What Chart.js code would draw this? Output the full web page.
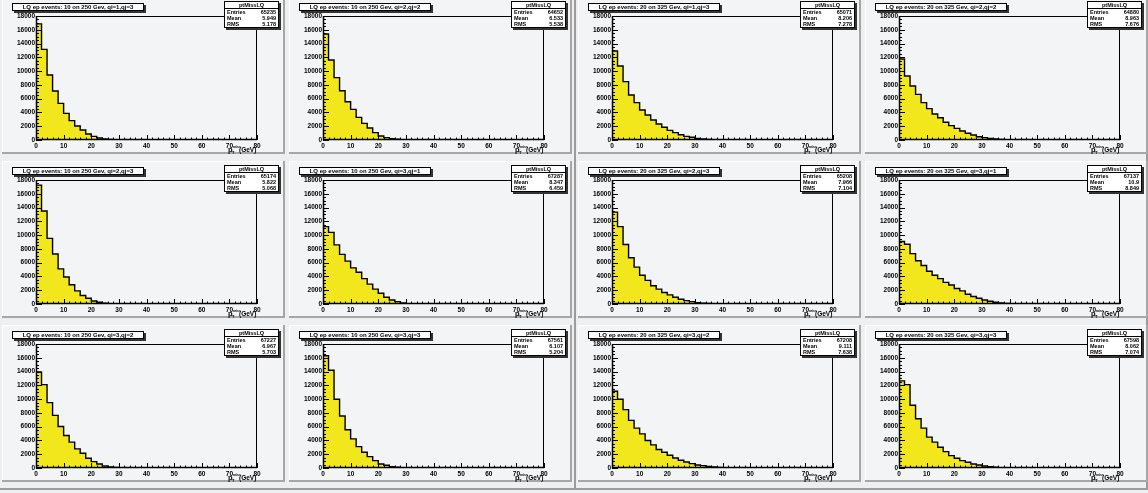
<!DOCTYPE html>
<html>
<head>
<meta charset="utf-8">
<script src="https://cdn.jsdelivr.net/npm/chart.js@4.4.0/dist/chart.umd.min.js"></script>
<style>
    body {
        margin: 0;
        width: 1148px;
        height: 493px;
        overflow: hidden;
        position: relative;
        background: #eeeff1;
        font-family: "Liberation Sans", Arial, sans-serif;
        font-weight: bold;
        color: #000;
    }
    .cv {
        position: absolute;
        top: 0;
        width: 574px;
        height: 488px;
        border-right: 2px solid #9c9c9c;
        border-bottom: 2px solid #9c9c9c;
    }
    .pad {
        position: absolute;
        width: 283px;
        height: 157px;
        background: #f3f4f6;
        box-shadow: inset -2px -2px 0 #a6a6a6, inset 1px 1px 0 #ffffff;
    }
    .pad canvas { position: absolute; left: 0; top: 0; }
    .title {
        position: absolute;
        left: 10px;
        top: 6px;
        width: 132px;
        height: 8px;
        background: #fff;
        border: 1px solid #000;
        box-shadow: 2px 2px 0 #333;
        box-sizing: border-box;
        font-size: 6px;
        line-height: 7px;
        text-align: center;
        white-space: nowrap;
    }
    .stats {
        position: absolute;
        left: 222px;
        top: 4px;
        width: 55px;
        height: 27px;
        background: #fff;
        border: 1px solid #000;
        box-shadow: 2px 2px 0 #333;
        box-sizing: border-box;
        font-size: 5.5px;
    }
    .stats .hd { text-align: center; border-bottom: 1px solid #000; height: 7px; line-height: 6px; box-sizing: border-box; }
    .stats .row { display: flex; justify-content: space-between; padding: 0 2px; height: 6px; line-height: 6px; }
    .xt { position: absolute; left: 226px; top: 148px; width: 40px; height: 10px; }
    .xt span { position: absolute; white-space: nowrap; line-height: normal; }
</style>
</head>
<body>
<div class="cv" style="left:0"></div>
<div class="cv" style="left:576px;width:570px"></div>
<div id="root"></div>
<script>
// bin width in GeV, histogram range 0..80
const binWidth = 2;
const xTickValues = [0, 10, 20, 30, 40, 50, 60, 70, 80];
const yTickValues = [0, 2000, 4000, 6000, 8000, 10000, 12000, 14000, 16000, 18000];

const panelTitles = [
    "LQ ep events: 10 on 250 Gev, qi=1,qj=3",
    "LQ ep events: 10 on 250 Gev, qi=2,qj=2",
    "LQ ep events: 20 on 325 Gev, qi=1,qj=3",
    "LQ ep events: 20 on 325 Gev, qi=2,qj=2",
    "LQ ep events: 10 on 250 Gev, qi=2,qj=3",
    "LQ ep events: 10 on 250 Gev, qi=3,qj=1",
    "LQ ep events: 20 on 325 Gev, qi=2,qj=3",
    "LQ ep events: 20 on 325 Gev, qi=3,qj=1",
    "LQ ep events: 10 on 250 Gev, qi=3,qj=2",
    "LQ ep events: 10 on 250 Gev, qi=3,qj=3",
    "LQ ep events: 20 on 325 Gev, qi=3,qj=2",
    "LQ ep events: 20 on 325 Gev, qi=3,qj=3"
];
const entries = [65235, 64652, 65071, 64880, 65174, 67287, 65208, 67137, 67227, 67561, 67208, 67598];
const means = ["5.949", "6.533", "8.206", "8.963", "5.822", "8.347", "7.966", "10.9", "6.967", "6.107", "9.111", "8.062"];
const rmsValues = ["5.178", "5.538", "7.278", "7.676", "5.068", "6.459", "7.104", "8.849", "5.703", "5.204", "7.638", "7.074"];

const counts10on250q1q3 = [16850, 13160, 9430, 7110, 5320, 3870, 2810, 2030, 1450, 870, 530, 290, 150, 80, 40, 20];
const counts10on250q2q2 = [15390, 11610, 9050, 7160, 5560, 4450, 3290, 2420, 1740, 1070, 580, 340, 190, 100, 50, 30];
const counts20on325q1q3 = [12920, 10740, 8470, 6530, 5420, 4360, 3630, 2900, 2320, 1840, 1400, 1070, 770, 530, 390, 240, 150, 90, 50, 30, 20];
const counts20on325q2q2 = [11760, 9290, 7840, 6630, 5420, 4550, 3770, 3240, 2570, 2080, 1690, 1310, 970, 730, 480, 340, 240, 150, 90, 50, 30, 20];
const counts10on250q2q3 = [17260, 13490, 9520, 7260, 5100, 3920, 2800, 1910, 1230, 830, 440, 250, 120, 60, 30];
const counts10on250q3q1 = [11230, 10400, 8580, 7210, 6230, 5250, 4610, 3680, 2890, 2160, 1570, 980, 590, 340, 150, 60];
const counts20on325q2q3 = [13340, 11230, 8630, 6720, 5350, 4170, 3430, 2650, 2160, 1670, 1320, 980, 690, 490, 340, 200, 120, 70, 40, 20];
const counts20on325q3q1 = [9070, 8680, 7310, 6280, 5590, 4760, 4170, 3680, 3140, 2750, 2260, 1910, 1420, 1080, 830, 590, 390, 250, 150, 90, 50, 30];
const counts10on250q3q2 = [13960, 12110, 9490, 7640, 6030, 4720, 3750, 2770, 2140, 1410, 920, 580, 290, 150, 70, 30];
const counts10on250q3q3 = [16300, 14200, 9970, 7540, 5550, 4230, 3110, 2290, 1650, 1070, 580, 390, 200, 100, 50, 25];
const counts20on325q3q2 = [11140, 9970, 8470, 6910, 5790, 4960, 3990, 3360, 2680, 2290, 1850, 1460, 1120, 880, 630, 440, 340, 240, 150, 90, 50, 30];
const counts20on325q3q3 = [12650, 12110, 9100, 7150, 5790, 4480, 3750, 3020, 2380, 1800, 1410, 1070, 830, 580, 440, 290, 180, 110, 60, 30];

const panelCounts = [
    counts10on250q1q3, counts10on250q2q2, counts20on325q1q3, counts20on325q2q2,
    counts10on250q2q3, counts10on250q3q1, counts20on325q2q3, counts20on325q3q1,
    counts10on250q3q2, counts10on250q3q3, counts20on325q3q2, counts20on325q3q3
];

const padLefts = [2, 289, 578, 865];
const padTops = [-3, 161, 325];
const padW = 283, padH = 157;

// ROOT-like frame: box + ticks pointing inward
const rootFrame = {
    id: "rootFrame",
    afterDatasetsDraw(chart) {
        const { ctx, chartArea: a, scales: { x, y } } = chart;
        ctx.save();
        ctx.strokeStyle = "#000";
        ctx.lineWidth = 1;
        ctx.strokeRect(a.left + 0.5, a.top + 0.5, a.right - a.left - 1, a.bottom - a.top - 1);
        ctx.beginPath();
        for (let v = 0; v <= 18000; v += 500) {
            const py = Math.round(y.getPixelForValue(v)) + 0.5;
            const len = yTickValues.includes(v) ? 6 : 3;
            ctx.moveTo(a.left, py);
            ctx.lineTo(a.left + len, py);
        }
        for (let v = 0; v <= 80; v += 2) {
            const px = Math.round(x.getPixelForValue(v)) + 0.5;
            const len = xTickValues.includes(v) ? 5 : 2.5;
            ctx.moveTo(px, a.bottom);
            ctx.lineTo(px, a.bottom - len);
        }
        ctx.stroke();
        ctx.lineWidth = 1.5;
        ctx.beginPath();
        ctx.moveTo(a.left + 0.5, a.top);
        ctx.lineTo(a.left + 0.5, a.bottom - 0.5);
        ctx.lineTo(a.right, a.bottom - 0.5);
        ctx.stroke();
        ctx.restore();
    }
};

const tickFont = { family: "'Liberation Sans', Arial, sans-serif", size: 6.5, weight: "bold" };

function histPoints(counts) {
    const pts = [{ x: 0, y: 0 }];
    counts.forEach((c, i) => pts.push({ x: (i + 1) * binWidth, y: c }));
    pts.push({ x: 80, y: 0 });
    return pts;
}

function makePanel(idx) {
    const col = idx % 4, row = Math.floor(idx / 4);
    const pad = document.createElement("div");
    pad.className = "pad";
    pad.style.left = padLefts[col] + "px";
    pad.style.top = padTops[row] + "px";
    const canvas = document.createElement("canvas");
    canvas.width = padW;
    canvas.height = padH;
    pad.appendChild(canvas);

    const title = document.createElement("div");
    title.className = "title";
    title.textContent = panelTitles[idx];
    pad.appendChild(title);

    const stats = document.createElement("div");
    stats.className = "stats";
    stats.innerHTML =
        '<div class="hd">ptMissLQ</div>' +
        '<div class="row"><span>Entries</span><span>' + entries[idx] + '</span></div>' +
        '<div class="row"><span>Mean</span><span>' + means[idx] + '</span></div>' +
        '<div class="row"><span>RMS</span><span>' + rmsValues[idx] + '</span></div>';
    pad.appendChild(stats);

    const xt = document.createElement("div");
    xt.className = "xt";
    xt.innerHTML =
        '<span style="left:0;top:0;font-size:7.5px">p</span>' +
        '<span style="left:4px;top:5px;font-size:4px">T</span>' +
        '<span style="left:5px;top:0;font-size:3.5px">miss</span>' +
        '<span style="left:11px;top:1px;font-size:6.5px">(GeV)</span>';
    pad.appendChild(xt);

    document.getElementById("root").appendChild(pad);

    new Chart(canvas, {
        type: "line",
        data: {
            datasets: [
                {
                    data: histPoints(panelCounts[idx]),
                    stepped: "after",
                    fill: "origin",
                    backgroundColor: "#f2e71c",
                    borderColor: "#000",
                    borderWidth: 1.4,
                    pointRadius: 0,
                    tension: 0,
                },
            ],
        },
        options: {
            responsive: false,
            animation: false,
            devicePixelRatio: 1,
            layout: { padding: { top: 19, right: 28, left: 0, bottom: 0 } },
            plugins: {
                legend: { display: false },
                title: { display: false },
                tooltip: { enabled: false },
            },
            scales: {
                x: {
                    type: "linear",
                    min: 0,
                    max: 80,
                    afterFit: (s) => { s.height = 14; },
                    afterBuildTicks: (s) => { s.ticks = xTickValues.map((v) => ({ value: v })); },
                    grid: { display: false, drawTicks: false },
                    border: { display: false },
                    ticks: { font: tickFont, color: "#000", padding: 2, maxRotation: 0, autoSkip: false,
                             callback: (v) => String(v) },
                },
                y: {
                    type: "linear",
                    min: 0,
                    max: 18000,
                    afterFit: (s) => { s.width = 34; },
                    afterBuildTicks: (s) => { s.ticks = yTickValues.map((v) => ({ value: v })); },
                    grid: { display: false, drawTicks: false },
                    border: { display: false },
                    ticks: { font: tickFont, color: "#000", padding: 1, callback: (v) => String(v) },
                },
            },
        },
        plugins: [rootFrame],
    });
}

for (let i = 0; i < 12; i++) makePanel(i);
</script>
</body>
</html>
